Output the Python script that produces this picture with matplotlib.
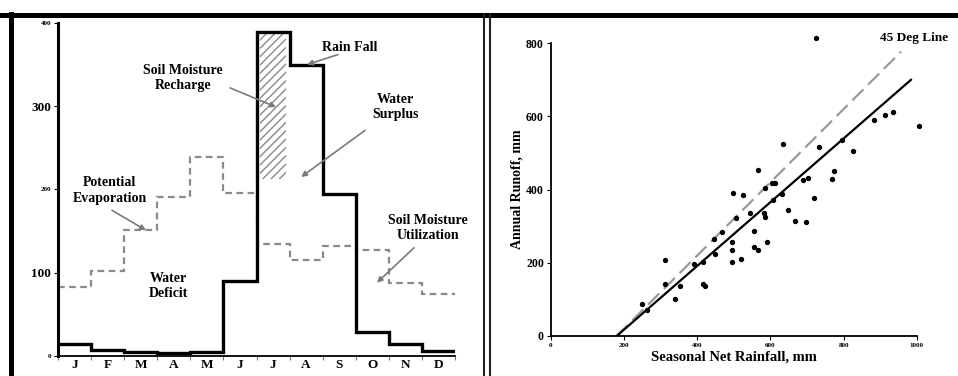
import matplotlib
matplotlib.use('Agg')
from matplotlib import pyplot as plt
from matplotlib.lines import Line2D
import numpy as np

plt.rcParams['font.family'] = ['Liberation Serif', 'DejaVu Serif']
plt.rcParams['font.weight'] = 'bold'
plt.rcParams['hatch.linewidth'] = 1.0

# left panel: monthly water balance
months = ['J', 'F', 'M', 'A', 'M', 'J', 'J', 'A', 'S', 'O', 'N', 'D']
rainfall = [15, 7, 5, 3, 5, 90, 389, 350, 195, 29, 14, 6]
pot_evap = [83, 102, 151, 191, 239, 196, 134, 115, 132, 127, 88, 74]
recharge_month = 6
recharge_low = 213
recharge_high = 389

# right panel: seasonal net rainfall vs annual runoff
net_rain = [725, 634, 734, 884, 912, 934, 1005, 825, 795, 566, 774, 767, 688, 704,
            586, 604, 613, 497, 526, 631, 720, 608, 647, 545, 582, 586, 506, 668,
            697, 469, 446, 554, 495, 590, 495, 556, 566, 449, 312, 519, 496, 390,
            417, 312, 353, 415, 422, 338, 250, 262]
runoff = [814, 525, 517, 589, 605, 611, 575, 506, 536, 454, 452, 429, 426, 431,
          405, 419, 417, 392, 384, 387, 378, 372, 343, 335, 335, 326, 322, 315,
          311, 284, 266, 286, 257, 256, 235, 244, 235, 224, 208, 210, 201, 198,
          203, 142, 137, 142, 137, 101, 88, 71]
fit_x = [180, 984]
fit_y = [0, 700]
deg45_x = [180, 957]
deg45_y = [0, 777]

fig = plt.figure(figsize=(9.58, 3.76), dpi=100)

# ---- left panel ----
ax = fig.add_axes([0.0605, 0.0532, 0.4145, 0.8858])
edges = np.arange(len(months) + 1)
ax.fill_between([recharge_month + 0.1, recharge_month + 0.9], recharge_low, recharge_high,
                facecolor='none', edgecolor='#888888', hatch='////', linewidth=0)
ax.stairs(pot_evap, edges, baseline=None, color='#8a8a8a', linewidth=1.6,
          linestyle=(0, (3, 2)))
ax.stairs(rainfall, edges, baseline=None, color='black', linewidth=2.4)
ax.set_xlim(0, 12)
ax.set_ylim(0, 400)
for s in ['top', 'right']:
    ax.spines[s].set_visible(False)
ax.spines['left'].set_linewidth(2.2)
ax.spines['bottom'].set_linewidth(1.3)
ax.set_xticks(edges)
ax.set_xticklabels([])
ax.set_xticks(edges[:-1] + 0.5, minor=True)
ax.set_xticklabels(months, minor=True, fontsize=9.5, fontweight='bold')
ax.tick_params(axis='x', which='major', length=3, width=0.8, color='#777777')
ax.tick_params(axis='x', which='minor', length=0, pad=2)
ax.set_yticks([0, 100, 200, 300, 400])
ax.set_yticklabels(['0', '100', '200', '300', '400'], fontweight='bold')
for lab, fs in zip(ax.get_yticklabels(), [5, 9.5, 5, 9.5, 5]):
    lab.set_fontsize(fs)
ax.tick_params(axis='y', length=3, width=0.8, pad=2)

txt = dict(ha='center', va='center', fontsize=10, fontweight='bold', linespacing=1.25)
arrow = dict(arrowstyle='-|>', color='#7a7a7a', lw=1.2, mutation_scale=8,
             shrinkA=0, shrinkB=0)
ax.text(8.83, 371, 'Rain Fall', **txt)
ax.text(3.78, 334, 'Soil Moisture\nRecharge', **txt)
ax.text(10.2, 299, 'Water\nSurplus', **txt)
ax.text(1.57, 199, 'Potential\nEvaporation', **txt)
ax.text(3.33, 84, 'Water\nDeficit', **txt)
ax.text(11.19, 154, 'Soil Moisture\nUtilization', **txt)
ax.annotate('', xy=(7.53, 350), xytext=(8.46, 362), arrowprops=arrow)
ax.annotate('', xy=(6.59, 299), xytext=(5.2, 322), arrowprops=arrow)
ax.annotate('', xy=(7.35, 215), xytext=(9.28, 271), arrowprops=arrow)
ax.annotate('', xy=(2.66, 151), xytext=(1.63, 175), arrowprops=arrow)
ax.annotate('', xy=(9.64, 88), xytext=(10.76, 130), arrowprops=arrow)

# ---- right panel ----
bx = fig.add_axes([0.575, 0.1064, 0.382, 0.7786])
bx.plot(deg45_x, deg45_y, color='#999999', linewidth=1.6, linestyle=(0, (7, 3)))
bx.plot(fit_x, fit_y, color='black', linewidth=1.6)
bx.scatter(net_rain, runoff, s=8, color='black', zorder=3, clip_on=False)
bx.set_xlim(0, 1000)
bx.set_ylim(0, 800)
for s in ['top', 'right']:
    bx.spines[s].set_visible(False)
bx.spines['left'].set_linewidth(1.3)
bx.spines['bottom'].set_linewidth(1.3)
bx.set_xticks([0, 200, 400, 600, 800, 1000])
bx.set_xticklabels(['0', '200', '400', '600', '800', '1000'], fontsize=5, fontweight='bold')
bx.set_yticks([0, 200, 400, 600, 800])
bx.set_yticklabels(['0', '200', '400', '600', '800'], fontsize=8.5, fontweight='bold')
bx.tick_params(length=3, width=0.8, pad=2)
bx.set_xlabel('Seasonal Net Rainfall, mm', fontsize=10.5, fontweight='bold', labelpad=2)
bx.set_ylabel('Annual Runoff, mm', fontsize=10, fontweight='bold', labelpad=2)
bx.text(900, 815, '45 Deg Line', ha='left', va='center', fontsize=9.5,
        fontweight='bold', clip_on=False)

# outer frame
fig.add_artist(Line2D([0, 1], [0.960, 0.960], transform=fig.transFigure, color='black', lw=3.6))
fig.add_artist(Line2D([0.011, 0.011], [0, 0.962], transform=fig.transFigure, color='black', lw=3.6))
fig.add_artist(Line2D([0.5047, 0.5047], [0, 0.962], transform=fig.transFigure, color='#222222', lw=1.5))
fig.add_artist(Line2D([0.5115, 0.5115], [0, 0.962], transform=fig.transFigure, color='#222222', lw=1.5))

plt.savefig('out.png', dpi=100)
